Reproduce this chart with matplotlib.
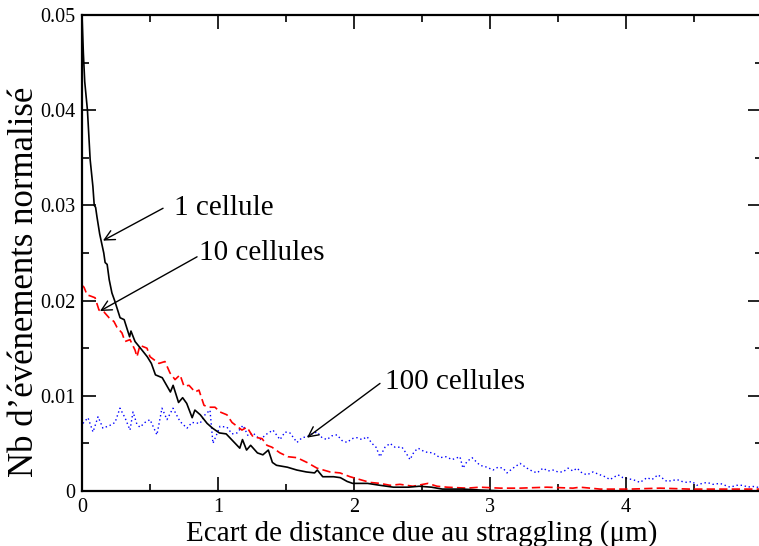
import matplotlib
matplotlib.use("Agg")
import matplotlib.pyplot as plt
from matplotlib.ticker import MultipleLocator

plt.rcParams['font.family'] = ['Liberation Serif', 'DejaVu Serif']

# 1 cellule (black, solid)
x1 = [0.00, 0.01, 0.02, 0.04, 0.06, 0.08, 0.09, 0.10, 0.11, 0.13, 0.16, 0.17, 0.185, 0.20, 0.22,
      0.24, 0.28, 0.31, 0.35, 0.36, 0.39, 0.43, 0.48, 0.51, 0.54, 0.59, 0.65, 0.67, 0.71, 0.74,
      0.77, 0.81, 0.83, 0.87, 0.92, 0.96, 1.01, 1.06, 1.10, 1.16, 1.18, 1.21, 1.24, 1.29, 1.33,
      1.37, 1.40, 1.43, 1.51, 1.58, 1.65, 1.71, 1.73, 1.77, 1.85, 1.90, 1.95, 1.99, 2.10, 2.19,
      2.29, 2.40, 2.48, 2.57, 2.65, 2.80, 2.93, 3.10, 3.50, 4.00, 4.50, 5.00]
y1 = [0.0500, 0.0460, 0.0430, 0.0400, 0.0348, 0.0320, 0.0300, 0.0298, 0.0288, 0.0270, 0.0250, 0.0240, 0.0238, 0.0222, 0.0208,
      0.0200, 0.0182, 0.0180, 0.0162, 0.0168, 0.0157, 0.0150, 0.0141, 0.0134, 0.0122, 0.0119, 0.0104, 0.0111, 0.0093, 0.0098,
      0.0092, 0.0077, 0.0085, 0.0080, 0.0071, 0.0066, 0.0061, 0.0060, 0.0054, 0.0045, 0.0054, 0.0043, 0.0048, 0.0040, 0.0038,
      0.0043, 0.0030, 0.0027, 0.0025, 0.0022, 0.0020, 0.0019, 0.0022, 0.0015, 0.0015, 0.0014, 0.0010, 0.0008, 0.0008, 0.0006,
      0.0004, 0.0004, 0.0005, 0.0004, 0.0002, 0.0002, 0.0001, 0.0000, 0.0000, 0.0000, 0.0000, 0.0000]

# 10 cellules (red, dashed)
x10 = [0.000, 0.015, 0.037, 0.059, 0.096, 0.125, 0.162, 0.199, 0.235, 0.257, 0.294, 0.316, 0.353, 0.390,
       0.404, 0.426, 0.478, 0.500, 0.566, 0.610, 0.647, 0.684, 0.721, 0.750, 0.787, 0.831, 0.860, 0.897,
       0.934, 0.978, 1.015, 1.066, 1.103, 1.140, 1.176, 1.213, 1.257, 1.324, 1.360, 1.397, 1.456, 1.515,
       1.581, 1.654, 1.728, 1.824, 1.897, 1.971, 2.044, 2.118, 2.191, 2.265, 2.338, 2.434, 2.544, 2.610,
       2.684, 2.831, 2.926, 3.074, 3.221, 3.419, 3.610, 3.662, 3.810, 4.030, 4.250, 4.470, 4.690, 5.000]
y10 = [0.0216, 0.0214, 0.0206, 0.0205, 0.0203, 0.0190, 0.0188, 0.0182, 0.0178, 0.0172, 0.0166, 0.0157, 0.0159, 0.0148,
       0.0141, 0.0153, 0.0150, 0.0141, 0.0134, 0.0136, 0.0124, 0.0117, 0.0122, 0.0110, 0.0111, 0.0104, 0.0106, 0.0090,
       0.0088, 0.0088, 0.0083, 0.0080, 0.0072, 0.0068, 0.0064, 0.0067, 0.0057, 0.0055, 0.0048, 0.0046, 0.0040, 0.0036,
       0.0035, 0.0030, 0.0024, 0.0020, 0.0019, 0.0015, 0.0012, 0.0009, 0.0008, 0.0006, 0.0007, 0.0005, 0.0008, 0.0005,
       0.0004, 0.0003, 0.0004, 0.0003, 0.0003, 0.0004, 0.0003, 0.0004, 0.0002, 0.0002, 0.0003, 0.0002, 0.0002, 0.0002]

# 100 cellules (blue, dotted)
x100 = [0.007, 0.044, 0.081, 0.118, 0.154, 0.206, 0.243, 0.279, 0.316, 0.353, 0.375, 0.404, 0.426, 0.463,
        0.500, 0.551, 0.588, 0.625, 0.669, 0.721, 0.772, 0.809, 0.868, 0.904, 0.941, 0.963, 1.015, 1.066,
        1.103, 1.140, 1.184, 1.221, 1.257, 1.309, 1.360, 1.404, 1.456, 1.493, 1.529, 1.581, 1.618, 1.654,
        1.691, 1.728, 1.765, 1.801, 1.838, 1.875, 1.912, 1.949, 1.985, 2.022, 2.059, 2.096, 2.132, 2.162,
        2.191, 2.228, 2.265, 2.301, 2.353, 2.382, 2.412, 2.441, 2.471, 2.522, 2.581, 2.632, 2.676, 2.721,
        2.779, 2.801, 2.831, 2.868, 2.926, 2.978, 3.022, 3.059, 3.096, 3.125, 3.169, 3.221, 3.272, 3.309,
        3.346, 3.390, 3.426, 3.463, 3.500, 3.537, 3.574, 3.610, 3.640, 3.676, 3.713, 3.757, 3.809, 3.846,
        3.882, 3.941, 3.978, 4.007, 4.051, 4.103, 4.154, 4.191, 4.235, 4.272, 4.301, 4.338, 4.375, 4.412,
        4.449, 4.485, 4.522, 4.559, 4.596, 4.640, 4.691, 4.728, 4.765, 4.816, 4.860, 4.897, 4.926, 4.963, 5.000]
y100 = [0.0071, 0.0077, 0.0062, 0.0078, 0.0066, 0.0069, 0.0072, 0.0087, 0.0077, 0.0064, 0.0083, 0.0070, 0.0067, 0.0072,
        0.0075, 0.0059, 0.0087, 0.0075, 0.0087, 0.0073, 0.0066, 0.0072, 0.0071, 0.0080, 0.0085, 0.0050, 0.0068, 0.0067,
        0.0060, 0.0061, 0.0069, 0.0058, 0.0061, 0.0054, 0.0060, 0.0064, 0.0054, 0.0062, 0.0061, 0.0051, 0.0056, 0.0057,
        0.0060, 0.0062, 0.0056, 0.0054, 0.0058, 0.0059, 0.0053, 0.0051, 0.0055, 0.0056, 0.0054, 0.0057, 0.0050, 0.0046,
        0.0036, 0.0046, 0.0050, 0.0046, 0.0046, 0.0040, 0.0033, 0.0041, 0.0045, 0.0041, 0.0040, 0.0035, 0.0036, 0.0033,
        0.0036, 0.0024, 0.0031, 0.0035, 0.0027, 0.0025, 0.0022, 0.0025, 0.0024, 0.0019, 0.0024, 0.0029, 0.0024, 0.0021,
        0.0019, 0.0024, 0.0021, 0.0022, 0.0020, 0.0020, 0.0024, 0.0021, 0.0024, 0.0019, 0.0017, 0.0020, 0.0017, 0.0015,
        0.0012, 0.0017, 0.0014, 0.0013, 0.0012, 0.0009, 0.0014, 0.0012, 0.0017, 0.0013, 0.0010, 0.0011, 0.0012, 0.0010,
        0.0009, 0.0010, 0.0006, 0.0008, 0.0009, 0.0007, 0.0008, 0.0006, 0.0004, 0.0006, 0.0006, 0.0004, 0.0005, 0.0004, 0.0004]

xticks = [0, 1, 2, 3, 4]
yticks = [0, 0.01, 0.02, 0.03, 0.04, 0.05]
ytick_labels = ['0', '0.01', '0.02', '0.03', '0.04', '0.05']

fig = plt.figure(figsize=(7.59, 5.46), dpi=100)
ax = fig.add_axes([82/759, 55/546, 680/759, 476/546])

ax.plot(x1, y1, color='black', lw=1.2, zorder=3)
ax.plot(x10, y10, color='red', lw=1.2, linestyle=(0, (5, 2.5)), zorder=2)
ax.plot(x100, y100, color='blue', lw=1.0, linestyle=(0, (1, 2)), zorder=1)

ax.set_xlim(0, 5)
ax.set_ylim(0, 0.05)
ax.set_xticks(xticks)
ax.set_xticklabels([str(t) for t in xticks])
ax.set_yticks(yticks)
ax.set_yticklabels(ytick_labels)
ax.xaxis.set_minor_locator(MultipleLocator(0.5))
ax.yaxis.set_minor_locator(MultipleLocator(0.005))
ax.tick_params(which='both', direction='in', top=True, right=True, labelsize=14.5, width=1.2)
ax.tick_params(which='major', length=10)
ax.tick_params(which='minor', length=5)
ax.tick_params(axis='x', pad=5)
ax.tick_params(axis='y', pad=5)
for s in ax.spines.values():
    s.set_linewidth(1.6)

ax.set_xlabel('Ecart de distance due au straggling (μm)', fontsize=21, labelpad=2)
ax.set_ylabel('Nb d\u2019événements normalisé', fontsize=25)
ax.yaxis.set_label_coords(-0.06, 0.44)

ap = dict(arrowstyle='->', color='black', lw=1.0, mutation_scale=18, shrinkA=0, shrinkB=0)
ax.annotate('', xy=(0.154, 0.0263), xytext=(0.596, 0.0297), arrowprops=ap)
ax.text(0.68, 0.0297, '1 cellule', fontsize=21, va='center', ha='left')
ax.annotate('', xy=(0.132, 0.0189), xytext=(0.846, 0.0246), arrowprops=ap)
ax.text(0.86, 0.0250, '10 cellules', fontsize=21, va='center', ha='left')
ax.annotate('', xy=(1.654, 0.0056), xytext=(2.191, 0.0113), arrowprops=ap)
ax.text(2.23, 0.0114, '100 cellules', fontsize=21, va='center', ha='left')

fig.savefig('out.png', dpi=100)
